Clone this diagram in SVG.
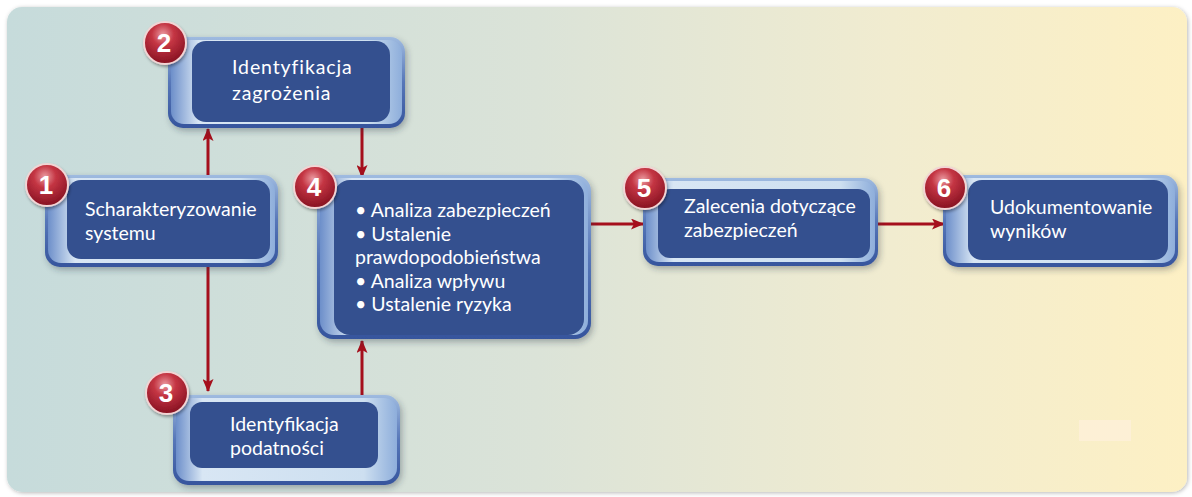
<svg xmlns="http://www.w3.org/2000/svg" width="1192" height="497" viewBox="0 0 1192 497">
  <defs>
    <linearGradient id="panelFill" x1="0" y1="0" x2="1" y2="0">
      <stop offset="0" stop-color="#c6dbdb"/>
      <stop offset="0.45" stop-color="#dbe3d8"/>
      <stop offset="0.75" stop-color="#f1ecd0"/>
      <stop offset="1" stop-color="#fdf0c4"/>
    </linearGradient>
    <linearGradient id="rimFill" x1="0" y1="0" x2="0" y2="1">
      <stop offset="0" stop-color="#9fbbe0"/>
      <stop offset="0.5" stop-color="#5676b8"/>
      <stop offset="1" stop-color="#36559d"/>
    </linearGradient>
    <linearGradient id="bevelFill" x1="0" y1="0" x2="1" y2="0">
      <stop offset="0" stop-color="#6d8fca"/>
      <stop offset="0.12" stop-color="#d8e6f4"/>
      <stop offset="0.85" stop-color="#cddff0"/>
      <stop offset="1" stop-color="#8eaedb"/>
    </linearGradient>
    <radialGradient id="badgeFill" cx="0.45" cy="0.3" r="0.75">
      <stop offset="0" stop-color="#ea9aa0"/>
      <stop offset="0.35" stop-color="#c43543"/>
      <stop offset="1" stop-color="#7f0d1d"/>
    </radialGradient>
    <filter id="panelShadow" x="-5%" y="-5%" width="110%" height="110%">
      <feDropShadow dx="1" dy="1" stdDeviation="2" flood-color="#000" flood-opacity="0.28"/>
    </filter>
    <filter id="boxShadow" x="-10%" y="-10%" width="125%" height="130%">
      <feDropShadow dx="2" dy="3" stdDeviation="3" flood-color="#2a3440" flood-opacity="0.35"/>
    </filter>
    <filter id="badgeShadow" x="-30%" y="-30%" width="160%" height="160%">
      <feDropShadow dx="1" dy="2" stdDeviation="1.5" flood-color="#000" flood-opacity="0.35"/>
    </filter>
    <marker id="arrowHead" viewBox="0 0 13 11" refX="12" refY="5.5" markerWidth="13" markerHeight="11" markerUnits="userSpaceOnUse" orient="auto">
      <path d="M0,0 L13,5.5 L0,11 L3,5.5 Z" fill="#a50f1c"/>
    </marker>
    <style>
      .rim { fill: url(#rimFill); filter: url(#boxShadow); }
      .bevel { fill: url(#bevelFill); }
      .face { fill: #34508f; }
      .label { font-family: Lato, "Open Sans", sans-serif; font-size: 19.5px; fill: #ffffff; }
      .wide { letter-spacing: 0.9px; }
      .badge { fill: url(#badgeFill); stroke: #f2d4d4; stroke-width: 2; filter: url(#badgeShadow); }
      .badge-num { font-family: "Liberation Sans", Arial, sans-serif; font-weight: bold; font-size: 26px; fill: #ffffff; text-anchor: middle; }
      .link { stroke: #a50f1c; stroke-width: 3; fill: none; marker-end: url(#arrowHead); }
    </style>
  </defs>

  <!-- background -->
  <rect width="1192" height="497" fill="#ffffff"/>
  <rect x="7" y="7" width="1180" height="485" rx="15" fill="url(#panelFill)" filter="url(#panelShadow)"/>
  <rect x="1079" y="420" width="52" height="21" fill="#fdf0d6"/>

  <!-- connectors -->
  <g id="connectors">
    <line class="link" x1="208" y1="176" x2="208" y2="129"/>
    <line class="link" x1="208" y1="266" x2="208" y2="391"/>
    <line class="link" x1="362" y1="127" x2="362" y2="177"/>
    <line class="link" x1="362" y1="395" x2="362" y2="341"/>
    <line class="link" x1="590" y1="224" x2="643" y2="224"/>
    <line class="link" x1="877" y1="224" x2="944" y2="224"/>
  </g>

  <!-- 1: system characterisation -->
  <g id="node1">
    <rect class="rim" x="45" y="175" width="233" height="92" rx="15"/>
    <rect class="bevel" x="48" y="178" width="227" height="85" rx="13"/>
    <rect class="face" x="67" y="180" width="203" height="79" rx="14"/>
    <text class="label" x="85" y="216">Scharakteryzowanie</text>
    <text class="label" x="85" y="240">systemu</text>
    <circle class="badge" cx="47" cy="185" r="21"/>
    <text class="badge-num" x="46" y="194">1</text>
  </g>

  <!-- 2: threat identification -->
  <g id="node2">
    <rect class="rim" x="168" y="37" width="237" height="91" rx="15"/>
    <rect class="bevel" x="171" y="40" width="231" height="84" rx="13"/>
    <rect class="face" x="192" y="41" width="198" height="81" rx="14"/>
    <text class="label wide" x="232" y="74">Identyfikacja</text>
    <text class="label wide" x="232" y="100">zagrożenia</text>
    <circle class="badge" cx="165" cy="43" r="21"/>
    <text class="badge-num" x="164" y="52">2</text>
  </g>

  <!-- 3: vulnerability identification -->
  <g id="node3">
    <rect class="rim" x="173" y="395" width="227" height="90" rx="15"/>
    <rect class="bevel" x="176" y="398" width="221" height="83" rx="13"/>
    <rect class="face" x="190" y="402" width="188" height="66" rx="12"/>
    <text class="label" x="230" y="431">Identyfikacja</text>
    <text class="label" x="230" y="455">podatności</text>
    <circle class="badge" cx="167" cy="393" r="21"/>
    <text class="badge-num" x="166" y="402">3</text>
  </g>

  <!-- 4: analysis steps -->
  <g id="node4">
    <rect class="rim" x="317" y="175" width="274" height="164" rx="16"/>
    <rect class="bevel" x="320" y="178" width="268" height="157" rx="14"/>
    <rect class="face" x="334" y="180" width="250" height="155" rx="16"/>
    <text class="label" x="355" y="217">• Analiza zabezpieczeń</text>
    <text class="label" x="355" y="241">• Ustalenie</text>
    <text class="label" x="355" y="264">prawdopodobieństwa</text>
    <text class="label" x="355" y="288">• Analiza wpływu</text>
    <text class="label" x="355" y="311">• Ustalenie ryzyka</text>
    <circle class="badge" cx="315" cy="187" r="21"/>
    <text class="badge-num" x="314" y="196">4</text>
  </g>

  <!-- 5: recommended controls -->
  <g id="node5">
    <rect class="rim" x="643" y="178" width="235" height="88" rx="15"/>
    <rect class="bevel" x="646" y="181" width="229" height="81" rx="13"/>
    <rect class="face" x="658" y="189" width="212" height="69" rx="12"/>
    <text class="label" x="684" y="213">Zalecenia dotyczące</text>
    <text class="label" x="684" y="237">zabezpieczeń</text>
    <circle class="badge" cx="645" cy="188" r="21"/>
    <text class="badge-num" x="644" y="197">5</text>
  </g>

  <!-- 6: documenting results -->
  <g id="node6">
    <rect class="rim" x="943" y="175" width="235" height="92" rx="15"/>
    <rect class="bevel" x="946" y="178" width="229" height="85" rx="13"/>
    <rect class="face" x="968" y="180" width="200" height="80" rx="14"/>
    <text class="label" x="990" y="214">Udokumentowanie</text>
    <text class="label" x="990" y="238">wyników</text>
    <circle class="badge" cx="945" cy="188" r="21"/>
    <text class="badge-num" x="944" y="197">6</text>
  </g>
</svg>
